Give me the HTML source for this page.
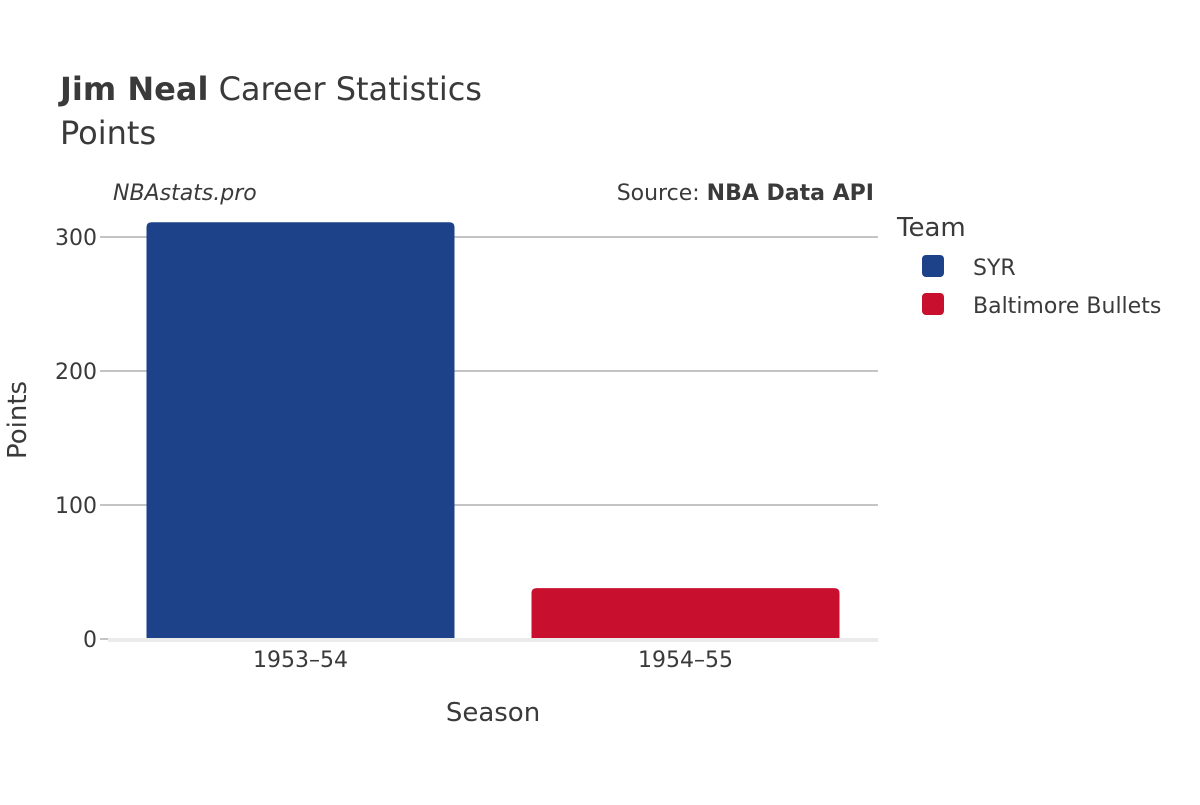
<!DOCTYPE html>
<html><head><meta charset="utf-8"><style>
body{margin:0;background:#fff;}
svg text{font-family:"DejaVu Sans","Liberation Sans",sans-serif;fill:#3a3a3a;}
</style></head><body>
<svg id="chart" width="1200" height="800">
<text x="60" y="100" font-size="32"><tspan font-weight="bold">Jim Neal</tspan> Career Statistics</text>
<text x="60" y="144" font-size="32">Points</text>
<text x="113" y="200" font-size="22" font-style="italic">NBAstats.pro</text>
<text x="874" y="200" font-size="22" text-anchor="end">Source: <tspan font-weight="bold">NBA Data API</tspan></text>
<g id="grid"></g>
<g id="bars"></g>
<g id="yticks"></g>
<g id="xticks"></g>
<text x="493" y="721" font-size="26" text-anchor="middle">Season</text>
<text transform="translate(26,420) rotate(-90)" font-size="26" text-anchor="middle">Points</text>
<text x="897" y="236" font-size="26">Team</text>
<g><rect x="922" y="255" width="22" height="22" rx="4" fill="#1d4289"/><text x="973" y="275" font-size="22">SYR</text></g>
<g><rect x="922" y="293" width="22" height="22" rx="4" fill="#c8102e"/><text x="973" y="313" font-size="22">Baltimore Bullets</text></g>
</svg>
<script>
const seasons=["1953–54","1954–55"];
const points=[311,38];
const teams=["SYR","Baltimore Bullets"];
const colors=["#1d4289","#c8102e"];
const yTicks=[0,100,200,300];
const X0=108,X1=878,Y0=639,YMAX=300,YPX=402;
const ns="http://www.w3.org/2000/svg";
const y=v=>Y0-v/YMAX*YPX;
const band=(X1-X0)/seasons.length;
const x=i=>X0+band*i+band/2;
function mk(tag,attrs,parent){const e=document.createElementNS(ns,tag);for(const k in attrs)e.setAttribute(k,attrs[k]);document.getElementById(parent).appendChild(e);return e;}
yTicks.forEach(t=>{
  if(t>0){const l=mk('line',{x1:X0,x2:X1,y1:y(t),y2:y(t),stroke:'#b0b0b0','stroke-width':1.5},'grid');
  
  }
  const tl=mk('line',{x1:X0-8,x2:X0,y1:y(t),y2:y(t),stroke:'#b0b0b0','stroke-width':1.5},'yticks');
  
  
  const tx=mk('text',{x:X0-3-8,y:y(t)+8,'font-size':22,'text-anchor':'end'},'yticks');tx.textContent=t;
  
  
});
const bw=band*0.8;
seasons.forEach((s,i)=>{
  const top=y(points[i]),h=Y0-top,r=Math.min(5,h/2);
  const xl=x(i)-bw/2,xr=x(i)+bw/2;
  const p=mk('path',{d:`M${xl},${Y0}V${top+r}Q${xl},${top} ${xl+r},${top}H${xr-r}Q${xr},${top} ${xr},${top+r}V${Y0}Z`,fill:colors[i]},'bars');
  
  
  const tx=mk('text',{x:x(i),y:Y0+28,'font-size':22,'text-anchor':'middle'},'xticks');tx.textContent=s;
  
  
});
const zl=mk('line',{x1:X0,x2:X1,y1:Y0+1,y2:Y0+1,stroke:'#ebebeb','stroke-width':4},'xticks');


</script>
</body></html>
